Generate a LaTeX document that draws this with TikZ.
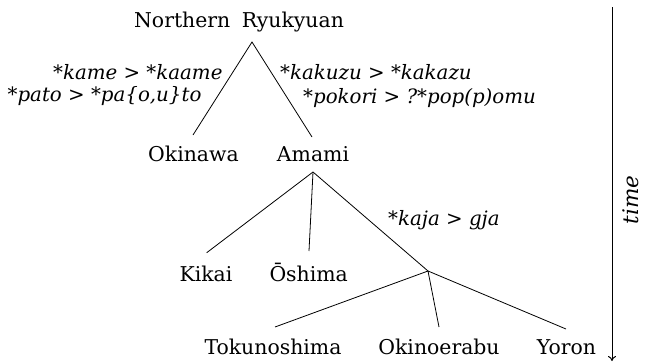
\documentclass[tikz,border=0pt]{standalone}
\usepackage{fontspec}
\setmainfont{DejaVu Serif}
\usetikzlibrary{arrows.meta}
\begin{document}
\begin{tikzpicture}[x=1pt,y=-1pt,
  lbl/.style={inner sep=0pt,font=\fontsize{20.4}{24}\selectfont},
  chg/.style={inner sep=0pt,font=\fontsize{19.8}{24}\selectfont\itshape},
  br/.style={line width=0.8pt}]
\useasboundingbox (0,0) rectangle (654,362);
% labels
\node[lbl,anchor=base] (nr) at (239,27) {Northern\hspace{0.25em} Ryukyuan};
\node[lbl,anchor=base] (oki) at (193.5,161) {Okinawa};
\node[lbl,anchor=base] (ama) at (313,161) {Amami};
\node[lbl,anchor=base] (kik) at (206,281) {Kikai};
\node[lbl,anchor=base] (osh) at (308.7,281) {Ōshima};
\node[lbl,anchor=base] (tok) at (273,354) {Tokunoshima};
\node[lbl,anchor=base] (oke) at (439,354) {Okinoerabu};
\node[lbl,anchor=base] (yor) at (566.5,354) {Yoron};
% sound changes
\node[chg,anchor=base east] (c1) at (222.7,79) {*kame > *kaame};
\node[chg,anchor=base east] (c2) at (201.7,101) {*pato > *pa\{o,u\}to};
\node[chg,anchor=base west] (c3) at (280,79.5) {*kakuzu > *kakazu};
\node[chg,anchor=base west] (c4) at (303,103) {*pokori > ?*pop(p)omu};
\node[chg,anchor=base west] (c5) at (388,225.7) {*kaja > gja};
% branch points
\coordinate (nrb) at (252,42);
\coordinate (okit) at (193,135);
\coordinate (amat) at (312,137);
\coordinate (amab) at (313,172);
\coordinate (kikt) at (206.7,252.7);
\coordinate (osht) at (309,251);
\coordinate (spl) at (428,271);
\coordinate (tokt) at (275,327);
\coordinate (oket) at (439,327);
\coordinate (yort) at (566,329);
\draw[br] (okit) -- (nrb) -- (amat);
\draw[br] (amab) -- (kikt);
\draw[br] (amab) -- (osht);
\draw[br] (amab) -- (spl);
\draw[br] (spl) -- (tokt);
\draw[br] (spl) -- (oket);
\draw[br] (spl) -- (yort);
% time arrow
\coordinate (ttop) at (612,7);
\coordinate (tbot) at (612,361);
\draw[line width=1pt,-{To[length=5pt,width=8pt]}] (ttop) -- (tbot);
\node[chg,rotate=90,font=\fontsize{21.5}{24}\selectfont\itshape] (time) at (631,200) {time};
\end{tikzpicture}
\end{document}
